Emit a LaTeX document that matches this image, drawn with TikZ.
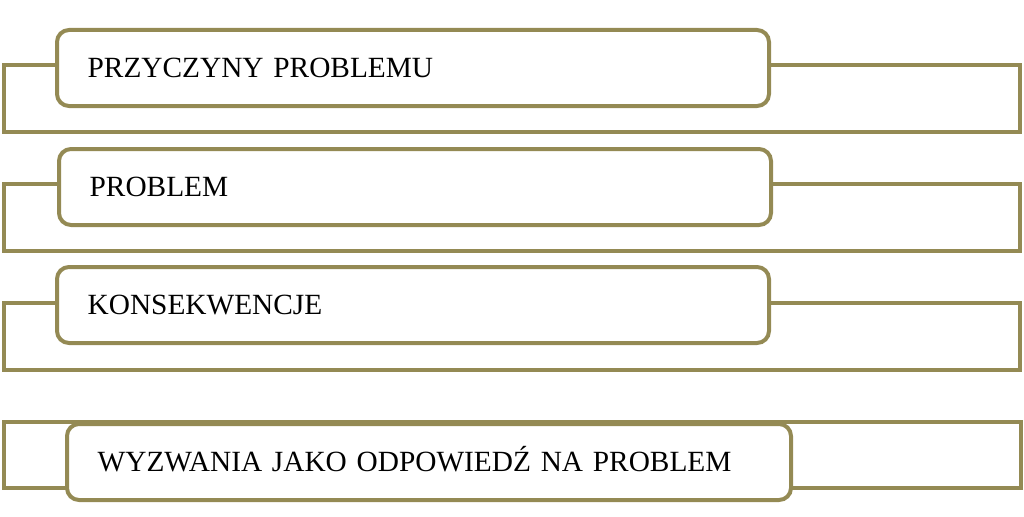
\documentclass[tikz,border=0pt]{standalone}
\usepackage{fontspec}
\setmainfont{Liberation Serif}
\definecolor{tanline}{HTML}{948A54}

\begin{document}
\begin{tikzpicture}[x=0.75pt,y=-0.75pt,
	frame/.style={draw=tanline, line width=3pt},
	box/.style={draw=tanline, line width=3pt, fill=white, rounded corners=9pt,
		anchor=north west, minimum height=57pt, inner xsep=23pt,
		text width=488pt, align=left, text height=14.6pt, text depth=0pt,
		font=\fontsize{22}{26}\selectfont}]
	\useasboundingbox (0,0) rectangle (1024,517);
	% outer frames
	\draw[frame] (4,65) rectangle (1020,132);
	\draw[frame] (4,184) rectangle (1020,251);
	\draw[frame] (4,303) rectangle (1020,370);
	\draw[frame] (4,422) rectangle (1021,488);
	% rounded boxes
	\node[box] (przyczyny) at (55,28) {PRZYCZYNY PROBLEMU};
	\node[box] (problem) at (57,147) {PROBLEM};
	\node[box] (konsekwencje) at (55,265) {KONSEKWENCJE};
	\node[box, text width=497pt] (wyzwania) at (65,422) {WYZWANIA JAKO ODPOWIEDŹ NA PROBLEM};
\end{tikzpicture}
\end{document}
